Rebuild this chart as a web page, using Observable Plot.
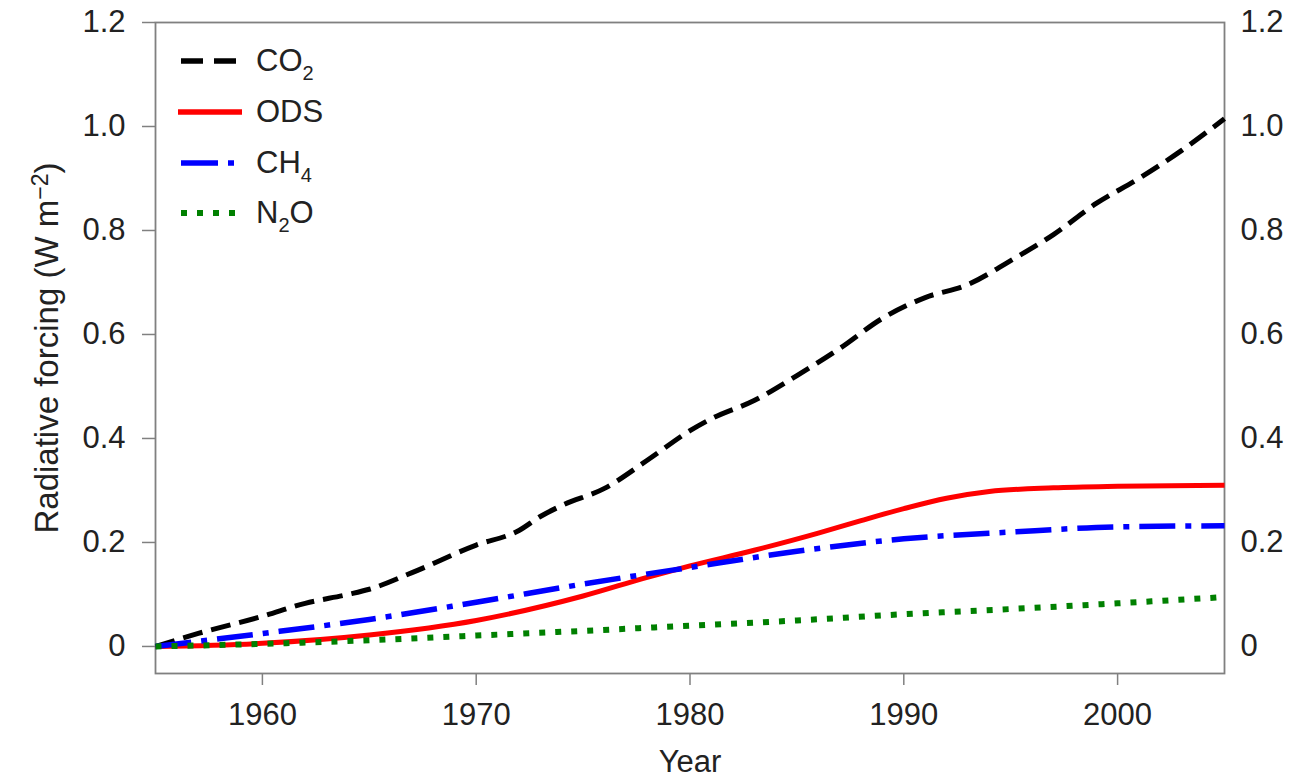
<!DOCTYPE html>
<html>
<head>
<meta charset="utf-8">
<script src="https://cdn.jsdelivr.net/npm/d3@7"></script>
<script src="https://cdn.jsdelivr.net/npm/@observablehq/plot@0.6"></script>
<style>
  html, body { margin: 0; padding: 0; background: #fff; }
  #wrap { position: relative; width: 1309px; height: 779px; font-family: "Liberation Sans", Arial, sans-serif; }
  #legend { position: absolute; left: 178px; top: 36px; color: #222; font-size: 31px; }
  .row { display: flex; align-items: center; height: 50.7px; }
  .row svg { width: 64px; height: 12px; margin-right: 14px; }
  sub { font-size: 20px; vertical-align: -9px; line-height: 0; }
</style>
</head>
<body>
<div id="wrap"></div>
<script>
// ---- data ----
const co2Years = [1955,1957,1960,1962,1964,1965,1967,1970,1972,1973,1974,1976,1978,1980,1981,1983,1985,1987,1989,1991,1993,1995,1997,1999,2001,2003,2005];
const co2Values = [0,0.025,0.058,0.083,0.100,0.110,0.142,0.195,0.223,0.250,0.271,0.304,0.358,0.415,0.438,0.473,0.521,0.573,0.631,0.671,0.696,0.742,0.792,0.852,0.900,0.954,1.015];

const odsYears = [1955,1960,1965,1970,1975,1978,1980,1983,1986,1988,1990,1992,1994,1997,2000,2005];
const odsValues = [0,0.006,0.022,0.050,0.097,0.133,0.155,0.185,0.218,0.242,0.265,0.285,0.298,0.305,0.308,0.310];

const ch4Years = [1955,1960,1965,1970,1975,1980,1985,1990,1995,2000,2005];
const ch4Values = [0,0.025,0.052,0.085,0.120,0.152,0.183,0.207,0.220,0.230,0.232];

const n2oYears = [1955,1960,1965,1970,1975,1980,1985,1990,1995,2000,2005];
const n2oValues = [0,0.005,0.012,0.021,0.030,0.040,0.050,0.062,0.072,0.083,0.095];

const xTicks = [1960,1970,1980,1990,2000];
const yTicks = [0,0.2,0.4,0.6,0.8,1.0,1.2];

const seriesNames = ["CO2","ODS","CH4","N2O"];
const seriesLabels = ["CO<sub>2</sub>","ODS","CH<sub>4</sub>","N<sub>2</sub>O"];
const seriesColors = ["#000000","#ff0000","#0000ff","#008000"];
const seriesDash = ["20,9","none","36,10,6,10","6,10"];
const legendDash = ["22,11","none","37,10,6,20","6,10"];
const seriesWidth = [5,5,5.5,6];

const toRows = (ys, vs) => ys.map((y, i) => ({year: y, value: vs[i]}));
const seriesData = [toRows(co2Years, co2Values), toRows(odsYears, odsValues), toRows(ch4Years, ch4Values), toRows(n2oYears, n2oValues)];

const fmt = d => d === 0 ? "0" : d.toFixed(1);

const lineMarks = seriesData.map((data, i) => Plot.line(data, {
  x: "year", y: "value", curve: "monotone-x",
  stroke: seriesColors[i], strokeWidth: seriesWidth[i],
  strokeDasharray: seriesDash[i], strokeLinecap: "butt"
}));

const chart = Plot.plot({
  width: 1309,
  height: 779,
  marginLeft: 155,
  marginRight: 85,
  marginTop: 22,
  marginBottom: 106,
  style: { fontFamily: "Liberation Sans, Arial, sans-serif", fontSize: "31px", color: "#222", background: "#fff" },
  x: { domain: [1955, 2005] },
  y: { domain: [-0.052, 1.2] },
  marks: [
    Plot.frame({ stroke: "#808080", strokeWidth: 1.8 }),
    Plot.axisX({ ticks: xTicks, tickFormat: d => String(d), tickSize: 12, tickPadding: 17, stroke: "#808080", strokeWidth: 1.5,
      fontSize: 31, label: "Year", labelAnchor: "center", labelArrow: "none", labelOffset: 98 }),
    Plot.axisY({ anchor: "left", ticks: yTicks, tickFormat: fmt, tickSize: 13, tickPadding: 17, stroke: "#808080", strokeWidth: 1.5,
      fontSize: 31, label: "Radiative forcing (W m-2)", labelAnchor: "center", labelArrow: "none", labelOffset: 121 }),
    Plot.axisY({ anchor: "right", ticks: yTicks, tickFormat: fmt, tickSize: 0, tickPadding: 16, fontSize: 31, label: null }),
    ...lineMarks
  ]
});

// real superscript in the y-axis label
chart.querySelectorAll("text").forEach(t => {
  if (t.textContent === "Radiative forcing (W m-2)") {
    t.setAttribute("font-size", "33");
    t.innerHTML = 'Radiative forcing (W m<tspan dy="-0.45em" font-size="0.7em">\u22122</tspan><tspan dy="0.315em">)</tspan>';
  }
});

const wrap = document.getElementById("wrap");
wrap.appendChild(chart);

// legend
const legend = document.createElement("div");
legend.id = "legend";
seriesNames.forEach((name, i) => {
  const row = document.createElement("div");
  row.className = "row";
  row.innerHTML = `<svg viewBox="0 0 64 12"><line x1="${i === 1 ? 0 : 3}" x2="${i === 1 ? 64 : 60}" y1="6" y2="6" stroke="${seriesColors[i]}" stroke-width="${i === 3 ? 6 : 5.5}" stroke-dasharray="${legendDash[i]}"/></svg><span>${seriesLabels[i]}</span>`;
  legend.appendChild(row);
});
wrap.appendChild(legend);
</script>
</body>
</html>
